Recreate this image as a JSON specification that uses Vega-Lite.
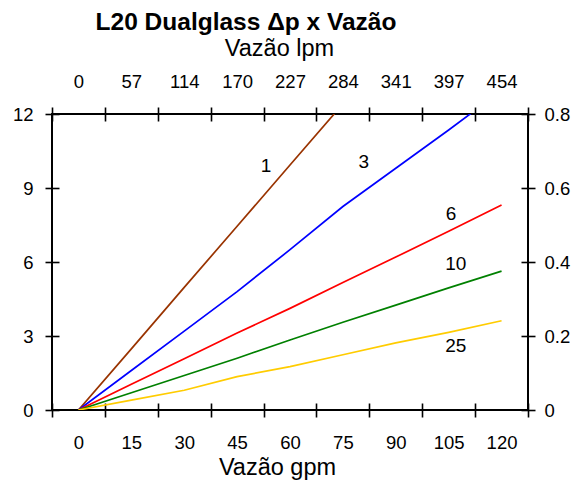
{
  "$schema": "https://vega.github.io/schema/vega-lite/v6.json",
  "width": 476,
  "height": 296,
  "autosize": {"type": "none"},
  "padding": {"left": 52, "top": 114, "right": 56, "bottom": 72},
  "background": "white",
  "config": {
    "font": "Liberation Sans",
    "view": {"stroke": "black", "strokeWidth": 2},
    "axis": {
      "grid": false,
      "domain": false,
      "tickColor": "black",
      "tickWidth": 1.6,
      "tickSize": 14,
      "offset": -7,
      "labelColor": "black",
      "labelFont": "Liberation Sans",
      "labelFontSize": 18.5,
      "labelOverlap": false,
      "labelFlush": false,
      "titleColor": "black",
      "titleFont": "Liberation Sans",
      "titleFontWeight": "normal",
      "titleFontSize": 23.5
    }
  },
  "title": {
    "text": "L20 Dualglass Δp x Vazão",
    "font": "Liberation Sans",
    "fontSize": 24.5,
    "fontWeight": "bold",
    "color": "black",
    "anchor": "middle",
    "dx": -44,
    "dy": 5,
    "offset": 6
  },
  "layer": [
    {
      "data": {
        "values": [
          {"gpm": 0, "dp": 0, "curva": "1"},
          {"gpm": 15, "dp": 2.48, "curva": "1"},
          {"gpm": 30, "dp": 4.97, "curva": "1"},
          {"gpm": 45, "dp": 7.45, "curva": "1"},
          {"gpm": 60, "dp": 9.93, "curva": "1"},
          {"gpm": 75, "dp": 12.41, "curva": "1"},
          {"gpm": 0, "dp": 0, "curva": "3"},
          {"gpm": 15, "dp": 1.6, "curva": "3"},
          {"gpm": 30, "dp": 3.2, "curva": "3"},
          {"gpm": 45, "dp": 4.8, "curva": "3"},
          {"gpm": 60, "dp": 6.5, "curva": "3"},
          {"gpm": 75, "dp": 8.25, "curva": "3"},
          {"gpm": 90, "dp": 9.8, "curva": "3"},
          {"gpm": 105, "dp": 11.35, "curva": "3"},
          {"gpm": 120, "dp": 12.95, "curva": "3"},
          {"gpm": 0, "dp": 0, "curva": "6"},
          {"gpm": 15, "dp": 1.04, "curva": "6"},
          {"gpm": 30, "dp": 2.08, "curva": "6"},
          {"gpm": 45, "dp": 3.12, "curva": "6"},
          {"gpm": 60, "dp": 4.12, "curva": "6"},
          {"gpm": 75, "dp": 5.17, "curva": "6"},
          {"gpm": 90, "dp": 6.2, "curva": "6"},
          {"gpm": 105, "dp": 7.25, "curva": "6"},
          {"gpm": 120, "dp": 8.31, "curva": "6"},
          {"gpm": 0, "dp": 0, "curva": "10"},
          {"gpm": 15, "dp": 0.7, "curva": "10"},
          {"gpm": 30, "dp": 1.4, "curva": "10"},
          {"gpm": 45, "dp": 2.1, "curva": "10"},
          {"gpm": 60, "dp": 2.84, "curva": "10"},
          {"gpm": 75, "dp": 3.56, "curva": "10"},
          {"gpm": 90, "dp": 4.25, "curva": "10"},
          {"gpm": 105, "dp": 4.95, "curva": "10"},
          {"gpm": 120, "dp": 5.63, "curva": "10"},
          {"gpm": 0, "dp": 0, "curva": "25"},
          {"gpm": 15, "dp": 0.4, "curva": "25"},
          {"gpm": 30, "dp": 0.8, "curva": "25"},
          {"gpm": 45, "dp": 1.35, "curva": "25"},
          {"gpm": 60, "dp": 1.76, "curva": "25"},
          {"gpm": 75, "dp": 2.24, "curva": "25"},
          {"gpm": 90, "dp": 2.72, "curva": "25"},
          {"gpm": 105, "dp": 3.15, "curva": "25"},
          {"gpm": 120, "dp": 3.62, "curva": "25"}
        ]
      },
      "mark": {"type": "line", "strokeWidth": 1.7, "clip": true},
      "encoding": {
        "x": {
          "field": "gpm",
          "type": "quantitative",
          "scale": {"domain": [-7.5, 127.5], "nice": false, "zero": false},
          "axis": {
            "orient": "bottom",
            "values": [-7.5, 7.5, 22.5, 37.5, 52.5, 67.5, 82.5, 97.5, 112.5, 127.5],
            "labelExpr": "datum.value > 120 ? '' : format(datum.value + 7.5, 'd')",
            "labelOffset": 26.44,
            "labelPadding": 16,
            "title": "Vazão gpm",
            "titleX": 225,
            "titleY": 71,
            "titleBaseline": "alphabetic",
            "titleAnchor": "middle"
          }
        },
        "y": {
          "field": "dp",
          "type": "quantitative",
          "scale": {"domain": [0, 12], "nice": false, "zero": false},
          "axis": {
            "orient": "left",
            "values": [0, 3, 6, 9, 12],
            "labelPadding": 12,
            "title": null
          }
        },
        "color": {
          "field": "curva",
          "type": "nominal",
          "scale": {
            "domain": ["1", "3", "6", "10", "25"],
            "range": ["#993300", "#0000ff", "#ff0000", "#008000", "#ffcc00"]
          },
          "legend": null
        }
      }
    },
    {
      "data": {
        "values": [
          {"gpm": 53.2, "dp": 9.9, "rotulo": "1"},
          {"gpm": 80.9, "dp": 10.07, "rotulo": "3"},
          {"gpm": 105.7, "dp": 7.93, "rotulo": "6"},
          {"gpm": 107, "dp": 5.92, "rotulo": "10"},
          {"gpm": 107, "dp": 2.59, "rotulo": "25"}
        ]
      },
      "mark": {"type": "text", "fontSize": 19, "font": "Liberation Sans", "color": "black", "align": "center", "baseline": "middle"},
      "encoding": {
        "x": {
          "field": "gpm",
          "type": "quantitative",
          "scale": {"domain": [-7.5, 127.5], "nice": false, "zero": false},
          "axis": {
            "orient": "top",
            "values": [-7.5, 7.5, 22.5, 37.5, 52.5, 67.5, 82.5, 97.5, 112.5, 127.5],
            "labelExpr": "datum.value > 120 ? '' : format(round((datum.value + 7.5) * 3.785), 'd')",
            "labelOffset": 26.44,
            "labelPadding": 16,
            "title": "Vazão lpm",
            "titleX": 227,
            "titleY": -66,
            "titleBaseline": "alphabetic",
            "titleAnchor": "middle"
          }
        },
        "y": {
          "field": "dp",
          "type": "quantitative",
          "scale": {"domain": [0, 12], "nice": false, "zero": false},
          "axis": {
            "orient": "right",
            "values": [0, 3, 6, 9, 12],
            "labelExpr": "datum.value == 0 ? '0' : format(datum.value / 15, '.1f')",
            "labelPadding": 9,
            "title": null
          }
        },
        "text": {"field": "rotulo", "type": "nominal"}
      }
    }
  ],
  "resolve": {
    "scale": {"x": "independent", "y": "independent"},
    "axis": {"x": "independent", "y": "independent"}
  }
}
